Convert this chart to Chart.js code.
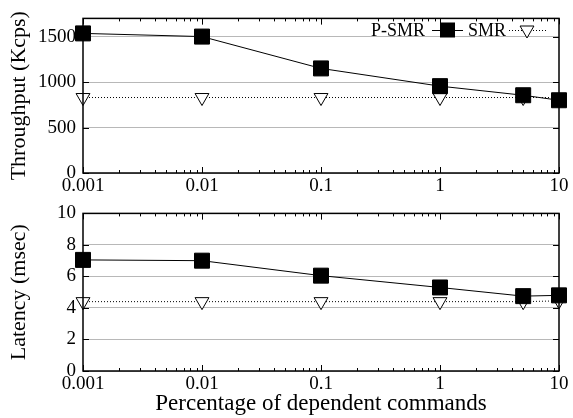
<!DOCTYPE html>
<html><head><meta charset="utf-8">
<script src="https://cdn.jsdelivr.net/npm/chart.js@4"></script>
<style>
html,body{margin:0;padding:0;background:#fff;}
#wrap{position:relative;width:573px;height:418px;}
canvas{position:absolute;left:0;}
#c1{top:0;}
#c2{top:195px;}
</style></head><body>
<div id="wrap">
<canvas id="c1" width="573" height="195"></canvas>
<canvas id="c2" width="573" height="223"></canvas>
</div>
<script>
const percentages = [0.001, 0.01, 0.1, 1, 5, 10];
const xTickValues = [0.001, 0.01, 0.1, 1, 10];
const xTickLabels = ['0.001', '0.01', '0.1', '1', '10'];
const psmrThroughput = [1535, 1500, 1150, 955, 855, 800];
const smrThroughput = [830, 830, 830, 830, 830, 830];
const psmrLatency = [7.05, 7.0, 6.05, 5.3, 4.75, 4.8];
const smrLatency = [4.4, 4.4, 4.4, 4.4, 4.4, 4.45];
const throughputTicks = [0, 500, 1000, 1500];
const latencyTicks = [0, 2, 4, 6, 8, 10];
const seriesNames = ['P-SMR', 'SMR'];

const FONT = "'Liberation Serif', 'DejaVu Serif', serif";

function pts(xs, ys){ return xs.map((x,i)=>({x:x, y:ys[i]})); }

const frame = {
  id:'frame',
  afterDatasetsDraw(chart){
    const ctx = chart.ctx, a = chart.chartArea;
    const xs = chart.scales.x, ys = chart.scales.y;
    ctx.save();
    ctx.strokeStyle = '#000';
    ctx.lineWidth = 1;
    ys.ticks.forEach(t=>{
      const y = Math.round(ys.getPixelForValue(t.value))+0.5;
      ctx.beginPath();
      ctx.moveTo(a.left, y); ctx.lineTo(a.left+6, y);
      ctx.moveTo(a.right, y); ctx.lineTo(a.right-6, y);
      ctx.stroke();
    });
    for (let d=-3; d<1; d++){
      for (let m=1; m<=10; m++){
        const v = m*Math.pow(10,d);
        if (v < xs.min - 1e-12 || v > xs.max + 1e-9) continue;
        const len = (m===1||m===10) ? 6 : 3;
        const x = Math.round(xs.getPixelForValue(v))+0.5;
        ctx.beginPath();
        ctx.moveTo(x, a.bottom); ctx.lineTo(x, a.bottom-len);
        ctx.moveTo(x, a.top); ctx.lineTo(x, a.top+len);
        ctx.stroke();
      }
    }
    ctx.lineWidth = 1.5;
    ctx.strokeRect(a.left, a.top, a.right-a.left, a.bottom-a.top);
    ctx.restore();
  }
};

const keyPlugin = {
  id:'key',
  afterDraw(chart){
    const ctx = chart.ctx, a = chart.chartArea;
    const y = 30;
    ctx.save();
    ctx.font = "18px " + FONT;
    ctx.fillStyle = '#000';
    ctx.textAlign = 'right';
    ctx.textBaseline = 'middle';
    const r = a.right;
    // SMR entry
    ctx.fillText(seriesNames[1], r-53, y+1);
    ctx.strokeStyle = '#000'; ctx.lineWidth = 1;
    ctx.setLineDash([1,2]);
    ctx.beginPath(); ctx.moveTo(r-50, y+0.5); ctx.lineTo(r-12, y+0.5); ctx.stroke();
    ctx.setLineDash([]);
    ctx.fillStyle = '#fff';
    const rad = 8, cx = r-32;
    let ang = Math.PI;
    ctx.beginPath();
    ctx.moveTo(cx+Math.sin(ang)*rad, y-Math.cos(ang)*rad);
    ang += 2*Math.PI/3; ctx.lineTo(cx+Math.sin(ang)*rad, y-Math.cos(ang)*rad);
    ang += 2*Math.PI/3; ctx.lineTo(cx+Math.sin(ang)*rad, y-Math.cos(ang)*rad);
    ctx.closePath(); ctx.fill(); ctx.stroke();
    // P-SMR entry
    ctx.fillStyle = '#000';
    ctx.fillText(seriesNames[0], r-134, y+1);
    ctx.beginPath(); ctx.moveTo(r-127, y+0.5); ctx.lineTo(r-96, y+0.5); ctx.stroke();
    ctx.fillRect(r-119, y-7.5, 15, 15);
    ctx.restore();
  }
};

function makeChart(id, p, s, ticks, ymax, yTitle, isBottom){
  const datasets = [
    {label:seriesNames[0], data:pts(percentages,p), borderColor:'#000', backgroundColor:'#000',
     borderWidth:1, pointStyle:'rect', pointRadius:10.6, pointHoverRadius:10.6,
     pointBackgroundColor:'#000', pointBorderColor:'#000', clip:false, order:1},
    {label:seriesNames[1], data:pts(percentages,s), borderColor:'#000', backgroundColor:'#fff',
     borderWidth:1, borderDash:[1,2], pointStyle:'triangle', rotation:180, pointRadius:8, pointHoverRadius:8,
     pointBackgroundColor:'#fff', pointBorderColor:'#000', pointBorderWidth:1, clip:false, order:2}
  ];
  return new Chart(document.getElementById(id), {
    type:'line',
    data:{datasets},
    options:{
      responsive:false, animation:false, devicePixelRatio:1,
      layout:{padding:{top: isBottom?15:14, right:14, left:0, bottom:0}},
      plugins:{legend:{display:false}, tooltip:{enabled:false}},
      scales:{
        x:{type:'logarithmic', min:0.001, max:10,
           afterBuildTicks(sc){ sc.ticks = xTickValues.map(v=>({value:v})); },
           afterFit(sc){ sc.height = isBottom ? 47 : 22; },
           ticks:{autoSkip:false, maxRotation:0, padding:2, color:'#000',
                  font:{family:FONT, size:19},
                  callback:(v)=>{ const i = xTickValues.findIndex(t=>Math.abs(t-v)/t<1e-6); return i>=0?xTickLabels[i]:''; }},
           grid:{display:false, drawTicks:false}, border:{display:false},
           title:{display:isBottom, text:'Percentage of dependent commands', color:'#000',
                  font:{family:FONT, size:23}, padding:{top:-6, bottom:0}}
        },
        y:{type:'linear', min:0, max:ymax,
           afterBuildTicks(sc){ sc.ticks = ticks.map(v=>({value:v})); },
           afterFit(sc){ sc.width = 83; },
           ticks:{padding:7, color:'#000', font:{family:FONT, size:19}, callback:(v)=>String(v)},
           grid:{color:'#b8b8b8', lineWidth:1, drawTicks:false}, border:{display:false},
           title:{display:true, text:yTitle, color:'#000', font:{family:FONT, size:22}, padding:{top:6,bottom:0}}
        }
      }
    },
    plugins: isBottom ? [frame] : [frame, keyPlugin]
  });
}

makeChart('c1', psmrThroughput, smrThroughput, throughputTicks, 1700, 'Throughput (Kcps)', false);
makeChart('c2', psmrLatency, smrLatency, latencyTicks, 10, 'Latency (msec)', true);
</script>
</body></html>
